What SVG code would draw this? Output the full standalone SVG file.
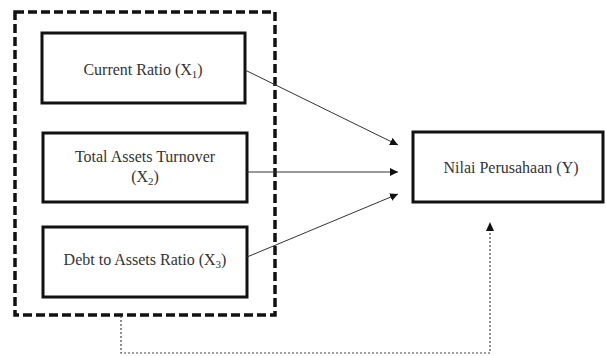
<svg xmlns="http://www.w3.org/2000/svg" width="606" height="356" viewBox="0 0 606 356">
<style>
.box{fill:#fff;stroke:#111;stroke-width:3}
.grp{fill:none;stroke:#111;stroke-width:3.5;stroke-dasharray:9,4}
.t{font-family:"Liberation Serif","Times New Roman",serif;font-size:16px;fill:#333;text-anchor:middle}
.s{font-size:11px}
.ln{stroke:#333;stroke-width:1;fill:none}
.dot{stroke:#444;stroke-width:1.2;fill:none;stroke-dasharray:2,2}
</style>
<defs>
<marker id="ah" viewBox="0 0 10 10" refX="10" refY="5" markerWidth="8" markerHeight="8" markerUnits="userSpaceOnUse" orient="auto">
<path d="M0,0 L10,5 L0,10 z" fill="#111"/>
</marker>
</defs>
<rect x="0" y="0" width="606" height="356" fill="#fff"/>
<g id="group-x">
<rect class="grp" x="15" y="12" width="260" height="303"/>
</g>
<g id="x1">
<rect class="box" x="42" y="33" width="203" height="70"/>
<text class="t" x="143" y="75">Current Ratio (X<tspan class="s" dy="3">1</tspan><tspan dy="-3">)</tspan></text>
</g>
<g id="x2">
<rect class="box" x="43" y="133" width="204" height="69"/>
<text class="t" x="145" y="162">Total Assets Turnover</text>
<text class="t" x="145" y="182">(X<tspan class="s" dy="3">2</tspan><tspan dy="-3">)</tspan></text>
</g>
<g id="x3">
<rect class="box" x="43" y="227" width="204" height="70"/>
<text class="t" x="145" y="265">Debt to Assets Ratio (X<tspan class="s" dy="3">3</tspan><tspan dy="-3">)</tspan></text>
</g>
<g id="y">
<rect class="box" x="413" y="132" width="190" height="70"/>
<text class="t" x="511" y="173">Nilai Perusahaan (Y)</text>
</g>
<g id="connectors">
<line class="ln" x1="245" y1="70" x2="398" y2="145" marker-end="url(#ah)"/>
<line class="ln" x1="247" y1="172" x2="398" y2="172" marker-end="url(#ah)"/>
<line class="ln" x1="247" y1="257" x2="398" y2="194" marker-end="url(#ah)"/>
<polyline class="dot" points="121,316 121,353 490,353 490,224"/>
<path d="M486,231 L490,222 L494,231 z" fill="#111"/>
</g>
</svg>
